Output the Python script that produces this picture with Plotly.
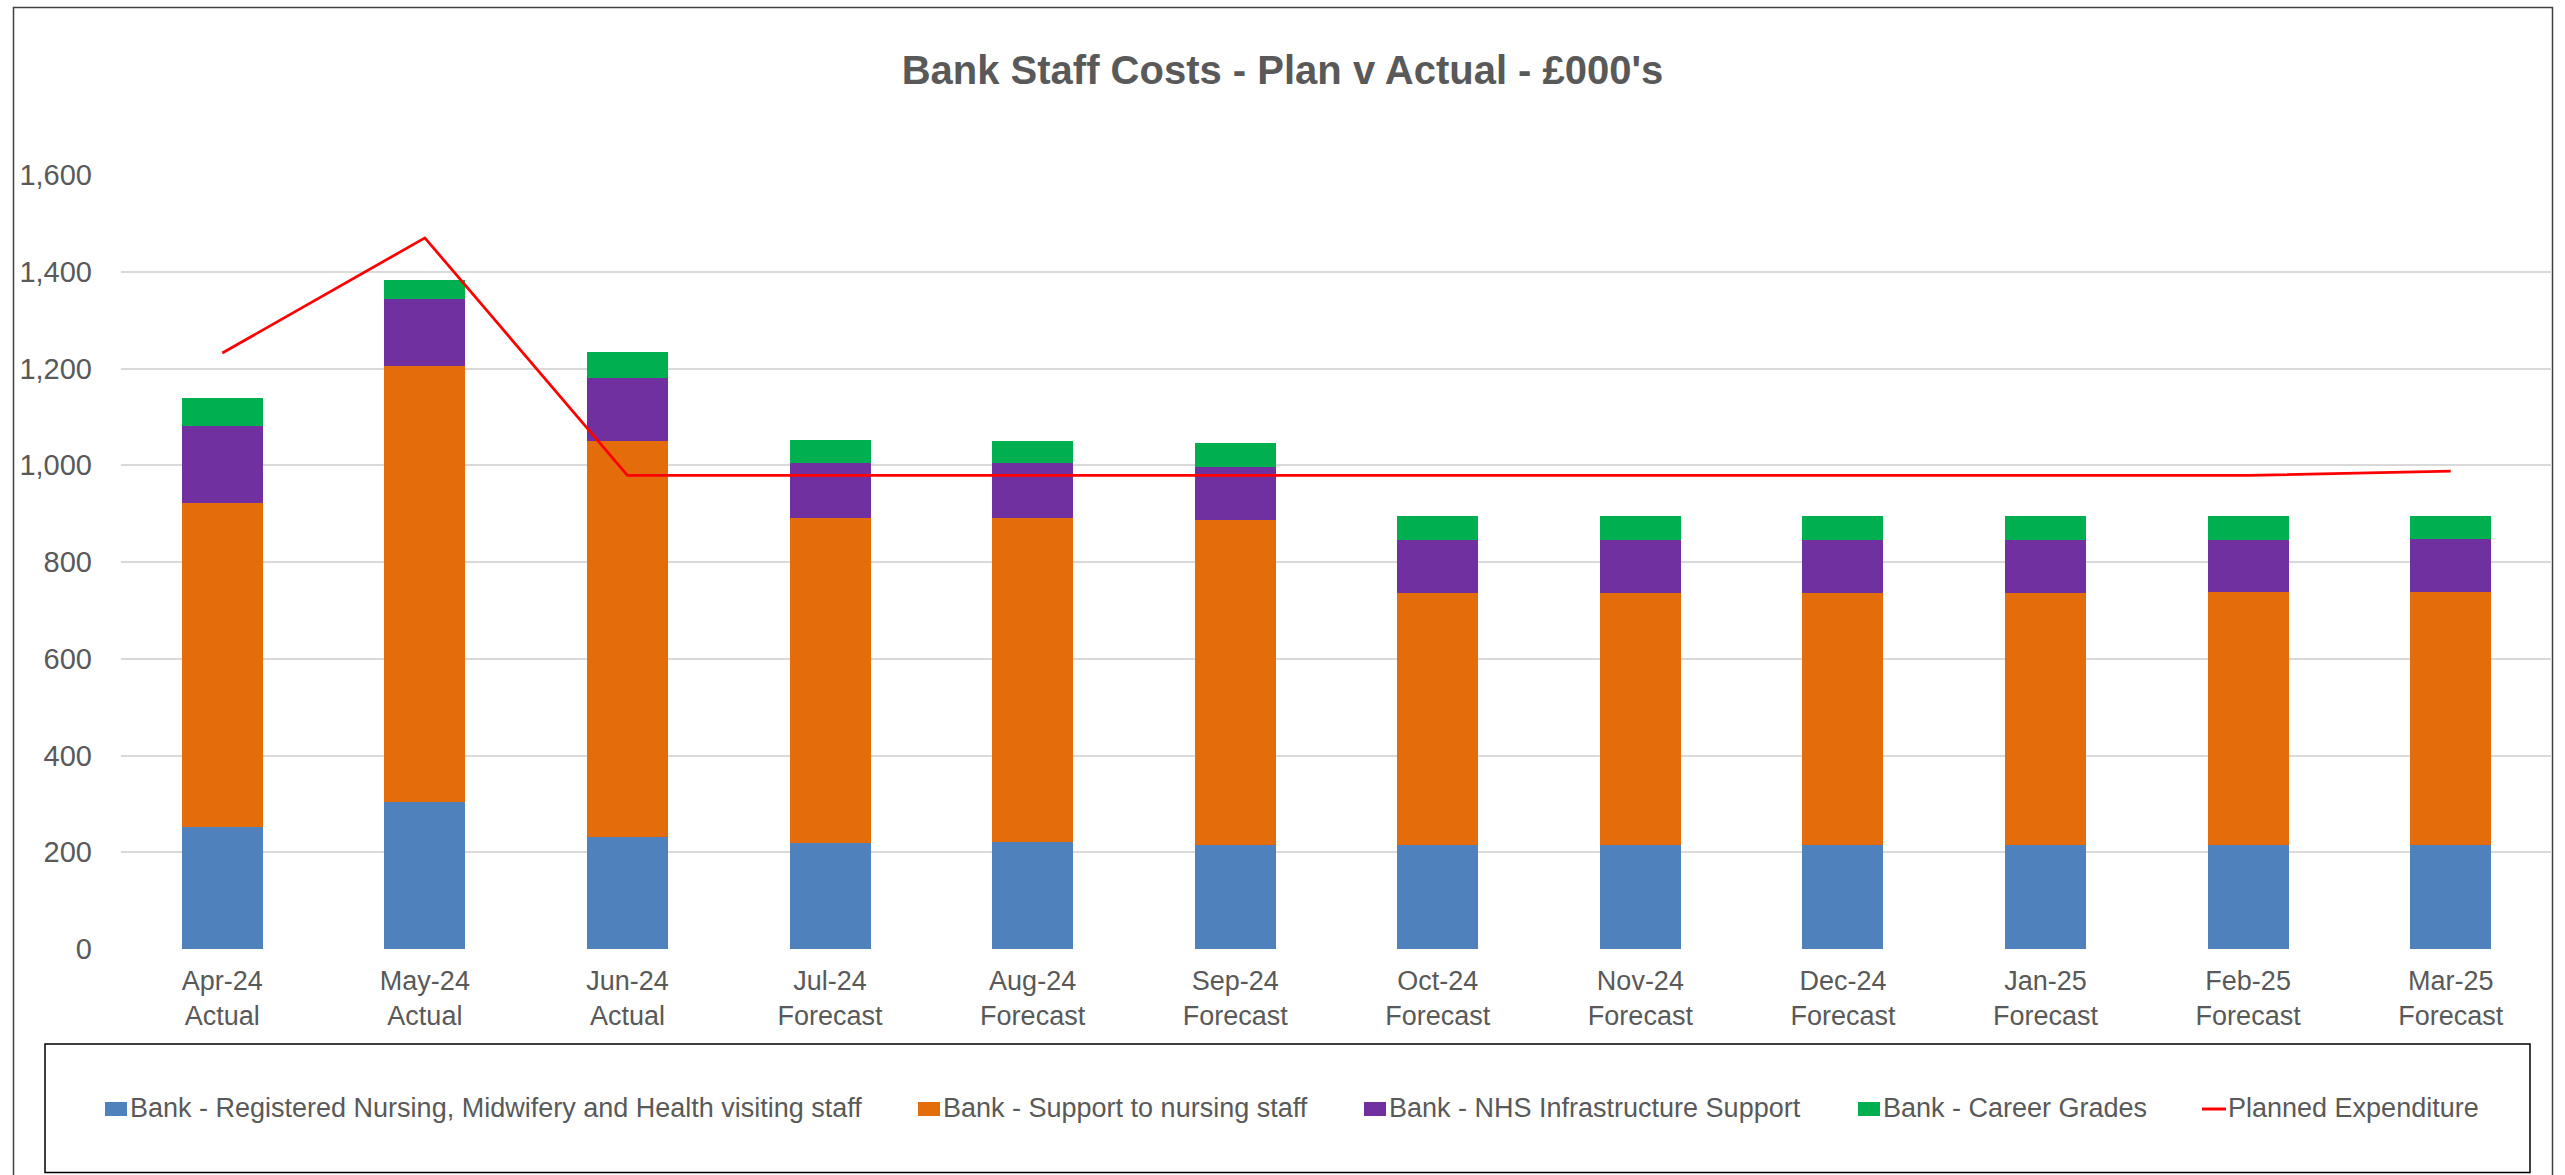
import plotly.graph_objects as go

# ---- data (£000's) ----
months = ["Apr-24", "May-24", "Jun-24", "Jul-24", "Aug-24", "Sep-24",
          "Oct-24", "Nov-24", "Dec-24", "Jan-25", "Feb-25", "Mar-25"]
status = ["Actual", "Actual", "Actual", "Forecast", "Forecast", "Forecast",
          "Forecast", "Forecast", "Forecast", "Forecast", "Forecast", "Forecast"]

registered_nursing = [252, 304, 232, 219, 221, 216, 216, 216, 216, 216, 216, 216]
support_to_nursing = [669, 901, 818, 672, 670, 670, 519, 519, 519, 519, 521, 521]
infrastructure = [160, 138, 130, 114, 114, 111, 110, 110, 110, 110, 108, 111]
career_grades = [59, 39, 55, 48, 46, 50, 50, 50, 50, 50, 50, 48]
planned_expenditure = [1232, 1470, 979, 979, 979, 979, 979, 979, 979, 979, 979, 988]

series_names = [
    "Bank - Registered Nursing, Midwifery and Health visiting staff",
    "Bank - Support to nursing staff",
    "Bank - NHS Infrastructure Support",
    "Bank - Career Grades",
]
series_values = [registered_nursing, support_to_nursing, infrastructure, career_grades]
series_colors = ["#4F81BD", "#E46C0A", "#7030A0", "#00B050"]
plan_name = "Planned Expenditure"
plan_color = "#FF0000"

y_ticks = [0, 200, 400, 600, 800, 1000, 1200, 1400, 1600]

# ---- page geometry (pixels) ----
W, H = 2565, 1175
PLOT_L, PLOT_R = 121, 2552
PLOT_T, PLOT_B = 175, 949
TEXT = "#595959"
FONT = "Liberation Sans, Arial, sans-serif"


def px_x(px):
    return (px - PLOT_L) / (PLOT_R - PLOT_L)


def px_y(py):
    return (PLOT_B - py) / (PLOT_B - PLOT_T)


categories = [f"{m}<br>{s}" for m, s in zip(months, status)]

fig = go.Figure()
for name, vals, col in zip(series_names, series_values, series_colors):
    fig.add_trace(go.Bar(x=categories, y=vals, name=name,
                         marker=dict(color=col, line=dict(width=0)),
                         showlegend=False))
fig.add_trace(go.Scatter(x=categories, y=planned_expenditure, name=plan_name,
                         mode="lines", line=dict(color=plan_color, width=2.75),
                         showlegend=False))

# ---- chart frame, legend box, keys and labels ----
shapes = []
annotations = []
# outer chart border
shapes.append(dict(type="rect", xref="paper", yref="paper",
                   x0=px_x(13.5), x1=px_x(2552.5), y0=px_y(1180), y1=px_y(7.5),
                   line=dict(color="#404040", width=1.5), layer="below"))
# legend frame
shapes.append(dict(type="rect", xref="paper", yref="paper",
                   x0=px_x(45), x1=px_x(2530), y0=px_y(1172.5), y1=px_y(1044),
                   line=dict(color="#000000", width=1.5)))

legend_key_left = [105, 918, 1364, 1858, 2202]
key_top, key_bot = 1102, 1116
key_mid = (key_top + key_bot) / 2
for i, (name, col) in enumerate(zip(series_names, series_colors)):
    x0 = legend_key_left[i]
    shapes.append(dict(type="rect", xref="paper", yref="paper",
                       x0=px_x(x0), x1=px_x(x0 + 22), y0=px_y(key_bot), y1=px_y(key_top),
                       fillcolor=col, line=dict(width=0)))
    annotations.append(dict(text=name, xref="paper", yref="paper",
                            x=px_x(x0 + 24), y=px_y(key_mid - 1), xanchor="left",
                            yanchor="middle", showarrow=False, borderpad=0,
                            font=dict(size=27, color=TEXT, family=FONT)))
x0 = legend_key_left[4]
shapes.append(dict(type="line", xref="paper", yref="paper",
                   x0=px_x(x0), x1=px_x(x0 + 24), y0=px_y(key_mid), y1=px_y(key_mid),
                   line=dict(color=plan_color, width=3)))
annotations.append(dict(text=plan_name, xref="paper", yref="paper",
                        x=px_x(x0 + 25), y=px_y(key_mid - 1), xanchor="left",
                        yanchor="middle", showarrow=False, borderpad=0,
                        font=dict(size=27, color=TEXT, family=FONT)))

fig.update_layout(
    width=W, height=H,
    margin=dict(l=PLOT_L, r=W - PLOT_R, t=PLOT_T, b=H - PLOT_B, autoexpand=False),
    paper_bgcolor="white", plot_bgcolor="white",
    barmode="stack", bargap=0.6,
    font=dict(family=FONT, color=TEXT),
    title=dict(text="<b>Bank Staff Costs - Plan v Actual - £000's</b>",
               x=(1282.5 - PLOT_L) / (PLOT_R - PLOT_L), xref="paper", xanchor="center",
               y=1 - 70 / H, yref="container", yanchor="middle",
               font=dict(size=40, color=TEXT, family=FONT)),
    showlegend=False,
    shapes=shapes,
    annotations=annotations,
)

fig.update_xaxes(type="category", showgrid=False, showline=False, zeroline=False,
                 ticks="", tickfont=dict(size=27, color=TEXT, family=FONT),
                 ticklabelstandoff=13)
fig.update_yaxes(range=[0, 1600], tickvals=y_ticks, tickformat=",",
                 showgrid=True, gridcolor="#D9D9D9", gridwidth=2,
                 zeroline=False, showline=False, ticks="",
                 tickfont=dict(size=29, color=TEXT, family=FONT),
                 ticklabelstandoff=28)

fig.write_html("out.html")
